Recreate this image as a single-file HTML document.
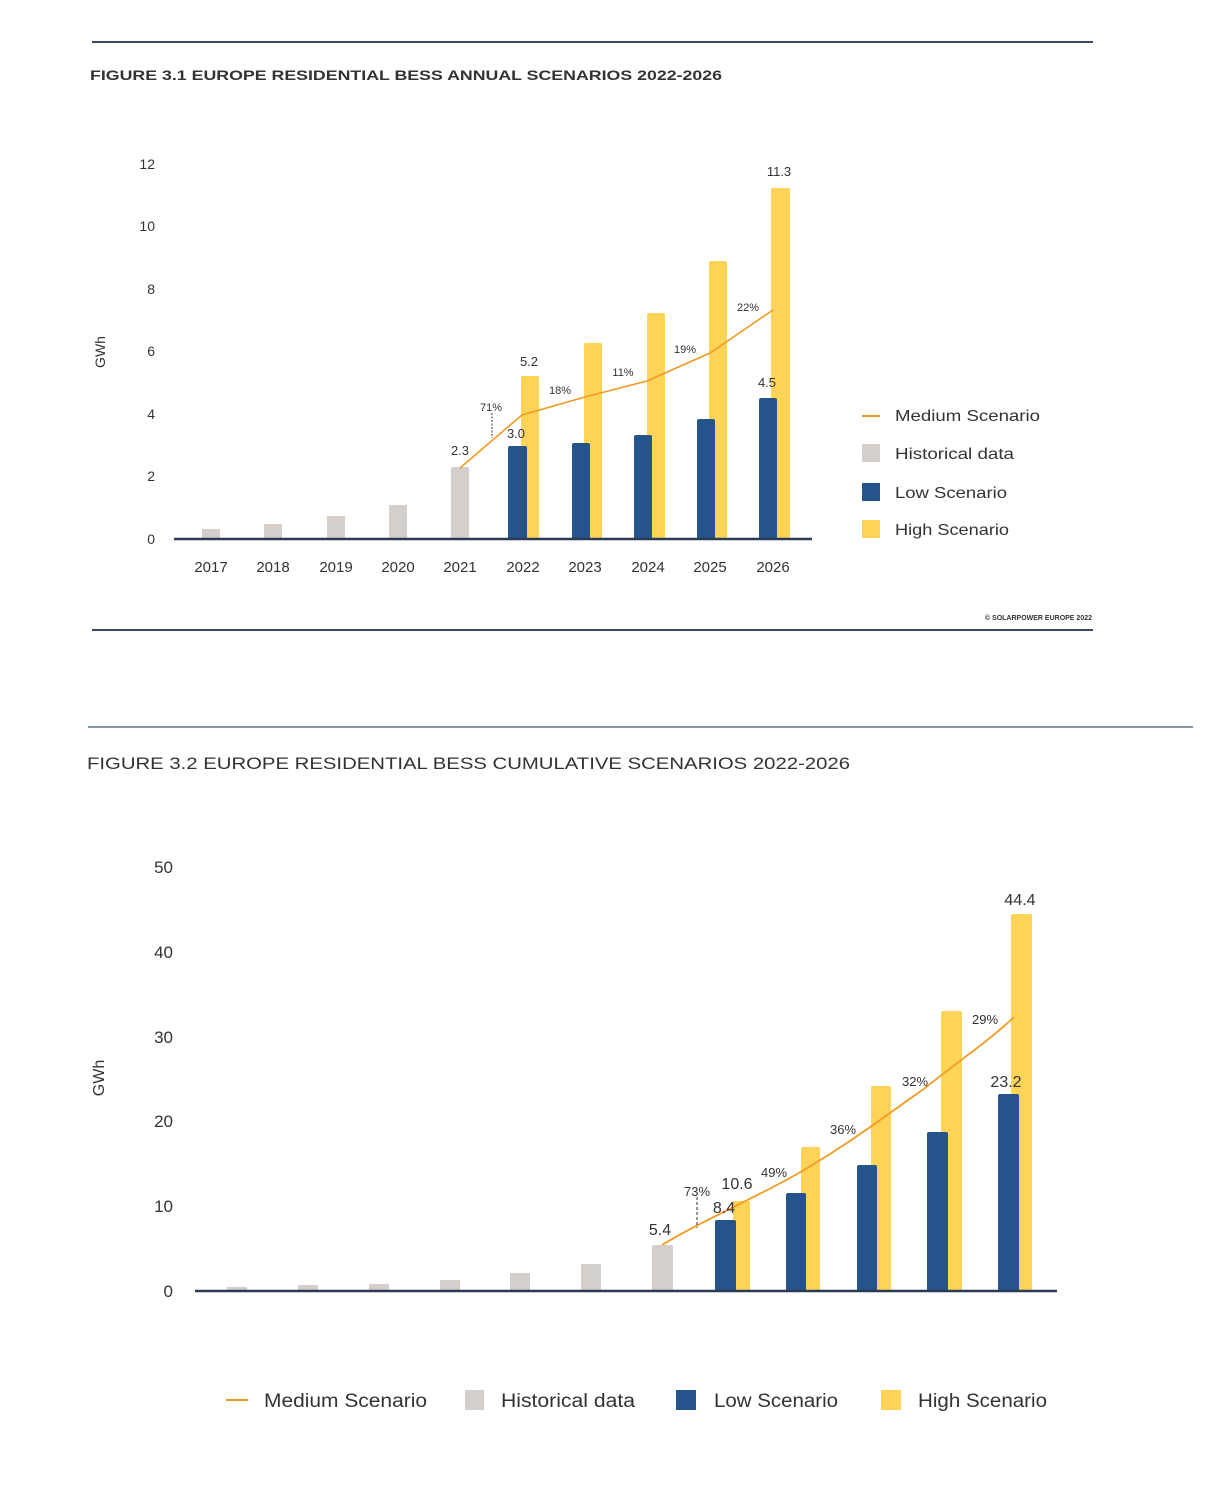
<!DOCTYPE html>
<html><head><meta charset="utf-8"><style>
html,body{margin:0;padding:0;background:#fff;}
svg{display:block;}
text{font-family:"Liberation Sans",sans-serif;fill:#333;}
</style></head><body>
<svg width="1224" height="1502" viewBox="0 0 1224 1502" xmlns="http://www.w3.org/2000/svg">
<line x1="92" y1="42" x2="1093" y2="42" stroke="#3a4a66" stroke-width="2"/>
<text x="90" y="80" font-size="14" font-weight="bold" fill="#2b3445" textLength="632" lengthAdjust="spacingAndGlyphs">FIGURE 3.1 EUROPE RESIDENTIAL BESS ANNUAL SCENARIOS 2022-2026</text>
<g font-size="14" text-anchor="end">
<text x="155" y="169">12</text><text x="155" y="231">10</text><text x="155" y="294">8</text>
<text x="155" y="356">6</text><text x="155" y="419">4</text><text x="155" y="481">2</text><text x="155" y="544">0</text>
</g>
<text x="0" y="0" font-size="14" transform="translate(105,352) rotate(-90)" text-anchor="middle">GWh</text>
<g fill="#d5cfcb">
<rect x="202" y="529" width="18" height="10"/><rect x="264" y="524" width="18" height="15"/>
<rect x="327" y="516" width="18" height="23"/><rect x="389" y="505" width="18" height="34"/>
<rect x="451" y="467" width="18" height="72" rx="2"/>
</g>
<g fill="#fdd458">
<rect x="521" y="376" width="18" height="163" rx="2"/><rect x="584" y="343" width="18" height="196" rx="2"/>
<rect x="647" y="313" width="18" height="226" rx="2"/><rect x="709" y="261" width="18" height="278" rx="2"/>
<rect x="771" y="188" width="19" height="351" rx="2"/>
</g>
<g fill="#24548a">
<rect x="508" y="446" width="19" height="93" rx="2"/><rect x="572" y="443" width="18" height="96" rx="2"/>
<rect x="634" y="435" width="18" height="104" rx="2"/><rect x="697" y="419" width="18" height="120" rx="2"/>
<rect x="759" y="398" width="18" height="141" rx="2"/>
</g>
<line x1="174" y1="539" x2="812" y2="539" stroke="#2b3a55" stroke-width="2.5"/>
<polyline points="460,468 522,415 585,397 647,381 710,353 773,310" fill="none" stroke="#f39a22" stroke-width="1.6"/>
<line x1="492" y1="413" x2="492" y2="438" stroke="#333" stroke-width="1" stroke-dasharray="2,1.5"/>
<g font-size="13" text-anchor="middle">
<text x="460" y="455">2.3</text><text x="516" y="438">3.0</text><text x="529" y="366">5.2</text>
<text x="767" y="387">4.5</text><text x="779" y="176">11.3</text>
</g>
<g font-size="11" text-anchor="middle">
<text x="491" y="411">71%</text><text x="560" y="394">18%</text><text x="623" y="376">11%</text>
<text x="685" y="353">19%</text><text x="748" y="311">22%</text>
</g>
<g font-size="15" text-anchor="middle">
<text x="211" y="572">2017</text><text x="273" y="572">2018</text><text x="336" y="572">2019</text><text x="398" y="572">2020</text>
<text x="460" y="572">2021</text><text x="523" y="572">2022</text><text x="585" y="572">2023</text><text x="648" y="572">2024</text>
<text x="710" y="572">2025</text><text x="773" y="572">2026</text>
</g>
<line x1="862" y1="416" x2="880" y2="416" stroke="#f39a22" stroke-width="2"/>
<rect x="862" y="444" width="18" height="18" fill="#d5cfcb"/>
<rect x="862" y="483" width="18" height="18" fill="#24548a"/>
<rect x="862" y="520" width="18" height="18" fill="#fdd458"/>
<g font-size="16">
<text x="895" y="421" textLength="145" lengthAdjust="spacingAndGlyphs">Medium Scenario</text>
<text x="895" y="459" textLength="119" lengthAdjust="spacingAndGlyphs">Historical data</text>
<text x="895" y="498" textLength="112" lengthAdjust="spacingAndGlyphs">Low Scenario</text>
<text x="895" y="535" textLength="114" lengthAdjust="spacingAndGlyphs">High Scenario</text>
</g>
<text x="1092" y="620" font-size="7" text-anchor="end" font-weight="bold">© SOLARPOWER EUROPE 2022</text>
<line x1="92" y1="630" x2="1093" y2="630" stroke="#3a4a66" stroke-width="2"/>

<line x1="88" y1="727" x2="1193" y2="727" stroke="#8a93a3" stroke-width="2"/>
<text x="87" y="769" font-size="17" fill="#2b3445" textLength="763" lengthAdjust="spacingAndGlyphs">FIGURE 3.2 EUROPE RESIDENTIAL BESS CUMULATIVE SCENARIOS 2022-2026</text>
<g font-size="17" text-anchor="end">
<text x="173" y="873">50</text><text x="173" y="958">40</text><text x="173" y="1043">30</text>
<text x="173" y="1127">20</text><text x="173" y="1212">10</text><text x="173" y="1297">0</text>
</g>
<text x="0" y="0" font-size="16" transform="translate(104,1078) rotate(-90)" text-anchor="middle">GWh</text>
<g fill="#d5cfcb">
<rect x="227" y="1287" width="20" height="4"/><rect x="298" y="1285" width="20" height="6"/>
<rect x="369" y="1284" width="20" height="7"/><rect x="440" y="1280" width="20" height="11"/>
<rect x="510" y="1273" width="20" height="18"/><rect x="581" y="1264" width="20" height="27"/>
<rect x="652" y="1245" width="21" height="46" rx="2"/>
</g>
<g fill="#fdd458">
<rect x="733" y="1201" width="17" height="90"/><rect x="801" y="1147" width="19" height="144" rx="2"/>
<rect x="871" y="1086" width="20" height="205" rx="2"/><rect x="941" y="1011" width="21" height="280" rx="2"/>
<rect x="1011" y="914" width="21" height="377" rx="2"/>
</g>
<g fill="#24548a">
<rect x="715" y="1220" width="21" height="71" rx="2"/><rect x="786" y="1193" width="20" height="98" rx="2"/>
<rect x="857" y="1165" width="20" height="126" rx="2"/><rect x="927" y="1132" width="21" height="159" rx="2"/>
<rect x="998" y="1094" width="21" height="197" rx="2"/>
</g>
<line x1="195" y1="1291" x2="1057" y2="1291" stroke="#2b3a55" stroke-width="2.5"/>
<path d="M662,1245 C700,1222 740,1205 790,1178 C840,1150 880,1120 925,1088 C960,1060 990,1040 1014,1017" fill="none" stroke="#f39a22" stroke-width="1.8"/>
<line x1="697" y1="1197" x2="697" y2="1228" stroke="#333" stroke-width="1" stroke-dasharray="3,2"/>
<g font-size="16" text-anchor="middle">
<text x="660" y="1235">5.4</text><text x="724" y="1213">8.4</text><text x="737" y="1189">10.6</text>
<text x="1006" y="1087">23.2</text><text x="1020" y="905">44.4</text>
</g>
<g font-size="13" text-anchor="middle">
<text x="697" y="1196">73%</text><text x="774" y="1177">49%</text><text x="843" y="1134">36%</text>
<text x="915" y="1086">32%</text><text x="985" y="1024">29%</text>
</g>
<line x1="226" y1="1400" x2="248" y2="1400" stroke="#f39a22" stroke-width="2"/>
<rect x="465" y="1390" width="19" height="20" fill="#d5cfcb"/>
<rect x="676" y="1390" width="20" height="20" fill="#24548a"/>
<rect x="881" y="1390" width="20" height="20" fill="#fdd458"/>
<g font-size="19">
<text x="264" y="1407" textLength="163" lengthAdjust="spacingAndGlyphs">Medium Scenario</text>
<text x="501" y="1407" textLength="134" lengthAdjust="spacingAndGlyphs">Historical data</text>
<text x="714" y="1407" textLength="124" lengthAdjust="spacingAndGlyphs">Low Scenario</text>
<text x="918" y="1407" textLength="129" lengthAdjust="spacingAndGlyphs">High Scenario</text>
</g>
</svg>
</body></html>
